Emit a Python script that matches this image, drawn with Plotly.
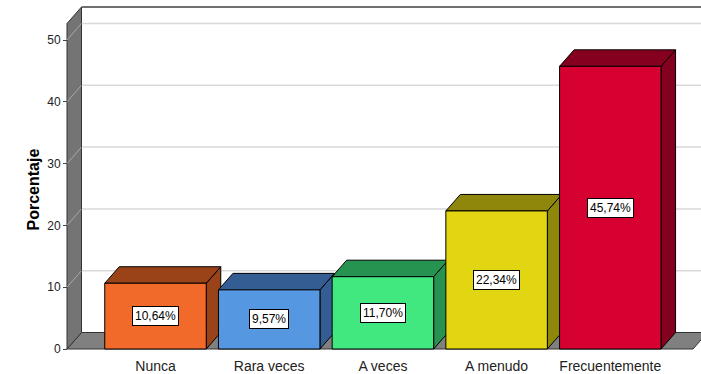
import plotly.graph_objects as go

# ---------------- data ----------------
categories = ["Nunca", "Rara veces", "A veces", "A menudo", "Frecuentemente"]
percent = [10.64, 9.57, 11.70, 22.34, 45.74]
value_labels = ["10,64%", "9,57%", "11,70%", "22,34%", "45,74%"]
y_ticks = [0, 10, 20, 30, 40, 50]

# ---------------- styles ----------------
front_colors = ["#F26A2A", "#5597E1", "#40E87F", "#E2D511", "#D60031"]
dark_colors = ["#9A4319", "#345E93", "#279350", "#8F870B", "#85001F"]

W, H = 701, 374
X_C0, X_STEP = 155.5, 113.7      # px of first category centre, px per category
Y0, Y_SCALE = 349.0, 6.18        # px of value 0, px per unit


def xv(px):
    return (px - X_C0) / X_STEP


def yv(px):
    return (Y0 - px) / Y_SCALE


DX = 14.5 / X_STEP
DY = 16.5 / Y_SCALE
BAR_W = 101.5 / X_STEP
XL = xv(67)
XR = xv(693)
XFAR = xv(740)
YMAX = yv(7) - DY

PLOT_L, PLOT_T, PLOT_B = 60, 4, 352

fig = go.Figure()

for i, (cat, v) in enumerate(zip(categories, percent)):
    xl, xr = i - BAR_W / 2, i + BAR_W / 2
    fig.add_trace(go.Scatter(
        x=[xr, xr + DX, xr + DX, xr, xr], y=[0, DY, v + DY, v, 0],
        fill="toself", fillcolor=dark_colors[i], mode="lines",
        line=dict(color="black", width=1), hoverinfo="skip",
        showlegend=False, zorder=2 * i))
    fig.add_trace(go.Scatter(
        x=[xl, xr, xr + DX, xl + DX, xl], y=[v, v, v + DY, v + DY, v],
        fill="toself", fillcolor=dark_colors[i], mode="lines",
        line=dict(color="black", width=1), hoverinfo="skip",
        showlegend=False, zorder=2 * i))
    fig.add_trace(go.Bar(
        x=[i], y=[v], width=BAR_W,
        marker=dict(color=front_colors[i], line=dict(color="black", width=1)),
        showlegend=False, hoverinfo="skip", zorder=2 * i + 1))
    fig.add_annotation(
        x=i, y=v / 2, text=value_labels[i], showarrow=False,
        bgcolor="white", bordercolor="black", borderwidth=1, borderpad=2,
        font=dict(size=12, color="black", family="Arial, Liberation Sans"))

shapes = []
# back wall gridlines
for t in y_ticks[1:]:
    shapes.append(dict(type="line", xref="x", yref="y", layer="below",
                       x0=XL + DX, x1=XFAR, y0=t + DY, y1=t + DY,
                       line=dict(color="#D9D9D9", width=1.5)))
# back wall top edge
shapes.append(dict(type="line", xref="x", yref="y", layer="below",
                   x0=XL + DX, x1=XFAR, y0=YMAX + DY, y1=YMAX + DY,
                   line=dict(color="#404040", width=1.5)))
# floor
shapes.append(dict(type="path", xref="x", yref="y", layer="below",
                   path=f"M {XL} 0 L {XR} 0 L {XR + DX} {DY} L {XL + DX} {DY} Z",
                   fillcolor="#808080", line=dict(color="#333333", width=1)))
# left wall
shapes.append(dict(type="path", xref="x", yref="y", layer="below",
                   path=f"M {XL} 0 L {XL} {YMAX} L {XL + DX} {YMAX + DY} L {XL + DX} {DY} Z",
                   fillcolor="#747474", line=dict(color="#333333", width=1)))
for t in y_ticks[1:]:
    shapes.append(dict(type="line", xref="x", yref="y", layer="below",
                       x0=XL, x1=XL + DX, y0=t, y1=t + DY,
                       line=dict(color="#A8A8A8", width=1)))

fig.add_annotation(
    xref="paper", yref="paper", x=22 / W, y=1 - 190 / H,
    text="<b>Porcentaje</b>", textangle=-90, showarrow=False,
    font=dict(size=16, color="black", family="Arial, Liberation Sans"))

fig.update_layout(
    width=W, height=H, margin=dict(l=0, r=0, t=0, b=0, pad=0),
    paper_bgcolor="white", plot_bgcolor="white",
    barmode="overlay", showlegend=False, shapes=shapes,
    font=dict(family="Arial, Liberation Sans", color="#222222"),
    xaxis=dict(domain=[PLOT_L / W, 1], range=[xv(PLOT_L), xv(W)],
               tickmode="array", tickvals=list(range(len(categories))),
               ticktext=categories, showgrid=False, zeroline=False,
               showline=False, ticks="", tickfont=dict(size=14, color="#222222"),
               ticklabelstandoff=4, automargin=False, fixedrange=True),
    yaxis=dict(domain=[1 - PLOT_B / H, 1 - PLOT_T / H],
               range=[yv(PLOT_B), yv(PLOT_T)], anchor="free",
               position=67 / W, tickmode="array", tickvals=y_ticks,
               showgrid=False, zeroline=False, showline=False,
               ticks="outside", ticklen=4, tickcolor="#444444",
               tickfont=dict(size=12, color="#222222"),
               automargin=False, fixedrange=True),
)

fig.write_html("out.html")
